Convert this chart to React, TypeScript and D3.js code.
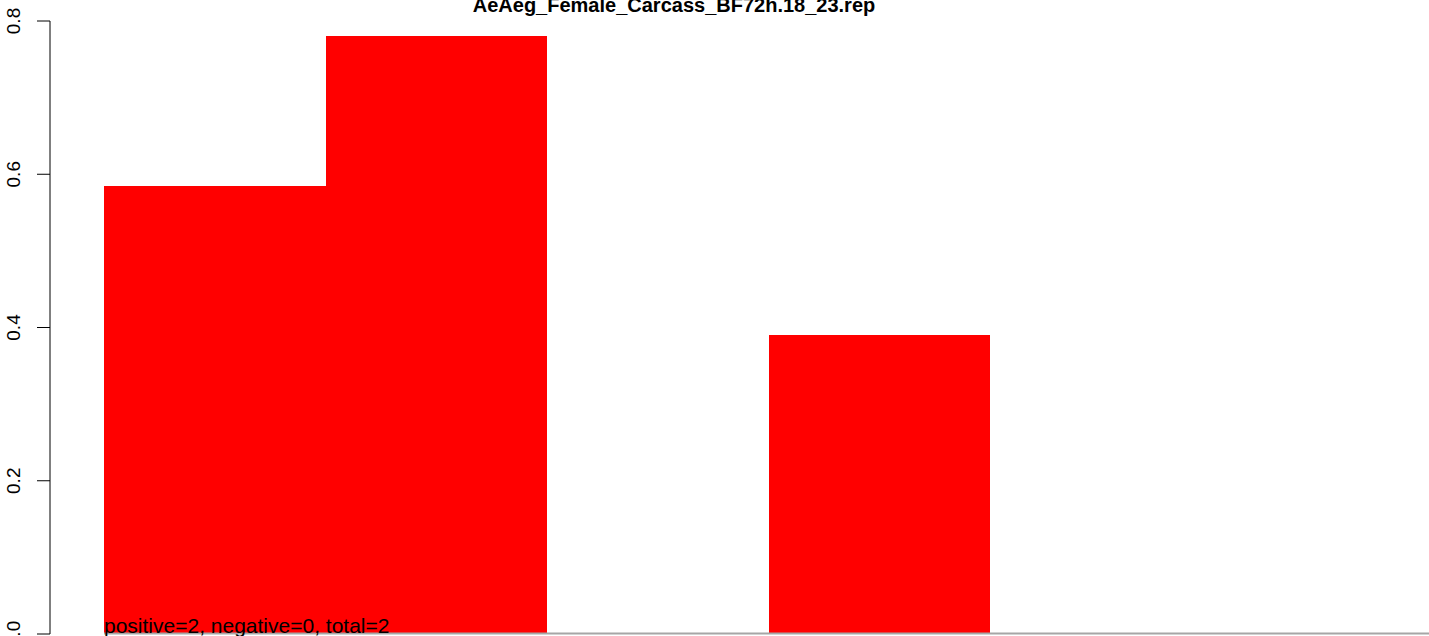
import React from "react";
import * as d3 from "d3";

const title = "AeAeg_Female_Carcass_BF72h.18_23.rep";
const categories = ["b1", "b2", "b3", "b4", "b5", "b6"];
const values = [0.585, 0.78, 0, 0.39, 0, 0];
const yTicks = [0, 0.2, 0.4, 0.6, 0.8];
const note = "positive=2, negative=0, total=2";

export default function App() {
  const W = 1429, H = 636;
  const y = d3.scaleLinear().domain([0, 0.8]).range([634, 21]);
  const x = d3.scaleBand<string>().domain(categories).range([104, 1433]).padding(0);
  const axisX = 50;
  return (
    <svg width={W} height={H} style={{ position: "absolute", left: 0, top: 0, background: "#fff" }}
      fontFamily="'Liberation Sans', Arial, sans-serif">
      {categories.map((c, i) => (
        values[i] > 0 ? (
          <rect key={c} x={x(c)!} y={y(values[i])} width={x.bandwidth()} height={y(0) - y(values[i])}
            fill="#ff0000" shapeRendering="crispEdges" />
        ) : null
      ))}
      <line x1={104} x2={W} y1={633.5} y2={633.5} stroke="#a6a6a6" strokeWidth={2} />
      <line x1={axisX} x2={axisX} y1={y(0)} y2={y(0.8)} stroke="#000" strokeWidth={1} />
      {yTicks.map((t) => (
        <g key={t}>
          <line x1={axisX - 13} x2={axisX} y1={y(t)} y2={y(t)} stroke="#000" strokeWidth={1} />
          <text transform={`translate(20,${y(t)}) rotate(-90)`} textAnchor="middle" fontSize={19} fill="#000">
            {t.toFixed(1)}
          </text>
        </g>
      ))}
      <text x={674} y={12} textAnchor="middle" fontSize={20} fontWeight="bold" fill="#000">{title}</text>
      <text x={104} y={633} fontSize={21} fill="#000">{note}</text>
    </svg>
  );
}
